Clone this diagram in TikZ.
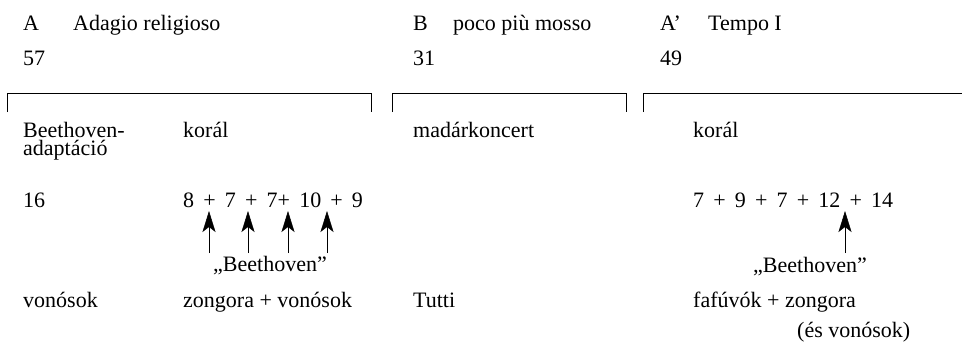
\documentclass[tikz,border=0pt]{standalone}
\usepackage{fontspec}
\setmainfont{Liberation Serif}
\usetikzlibrary{arrows.meta}
\begin{document}
\begin{tikzpicture}[x=1pt,y=-1pt,
  txt/.style={anchor=base west,inner sep=0pt,font=\fontsize{22}{16}\selectfont},
  ctxt/.style={anchor=base,inner sep=0pt,font=\fontsize{22}{16}\selectfont},
  brk/.style={line width=0.9pt},
  up/.style={line width=0.5pt,-{Stealth[length=21pt,width=13pt,inset=5pt]}}]
\useasboundingbox (0,0) rectangle (962,343);
% header
\node[txt] (hA) at (23,30) {A};
\node[txt] (tA) at (73,30) {Adagio religioso};
\node[txt] (hB) at (413,30) {B};
\node[txt] (tB) at (453,30) {poco più mosso};
\node[txt] (hC) at (660,30) {A’};
\node[txt] (tC) at (708,30) {Tempo I};
\node[txt] (nA) at (23,65) {57};
\node[txt] (nB) at (413,65) {31};
\node[txt] (nC) at (660,65) {49};
% brackets
\draw[brk] (7,112) -- (7,93) -- (371,93) -- (371,112);
\draw[brk] (392,112) -- (392,93) -- (626,93) -- (626,112);
\draw[brk] (643,112) -- (643,93) -- (962,93);
% row 3
\node[txt] (bee1) at (23,137) {Beethoven-};
\node[txt] (bee2) at (23,155) {adaptáció};
\node[txt] (kor1) at (183,137) {korál};
\node[txt] (mad) at (413,137) {madárkoncert};
\node[txt] (kor2) at (693,137) {korál};
% row 4
\node[txt] (n16) at (23,207) {16};
\node[txt] (seq1) at (183,207) {8 \,+\, 7 \,+\, 7+ \,10 \,+\, 9};
\node[txt] (seq2) at (693,207) {7 \,+\, 9 \,+\, 7 \,+\, 12 \,+\, 14};
% arrows
\foreach \i/\x in {1/209,2/248,3/288,4/327}{
  \coordinate (b\i) at (\x,253);
  \coordinate (t\i) at (\x,211);
  \draw[up] (b\i) -- (t\i);
}
\coordinate (b5) at (845,253);
\coordinate (t5) at (845,211);
\draw[up] (b5) -- (t5);
\node[ctxt] (q1) at (270,271) {„Beethoven”};
\node[ctxt] (q2) at (810,272) {„Beethoven”};
% row 5
\node[txt] (v1) at (23,307) {vonósok};
\node[txt] (v2) at (183,307) {zongora + vonósok};
\node[txt] (v3) at (413,307) {Tutti};
\node[txt] (v4) at (693,307) {fafúvók + zongora};
\node[txt] (v5) at (797,337) {(és vonósok)};
\end{tikzpicture}
\end{document}
